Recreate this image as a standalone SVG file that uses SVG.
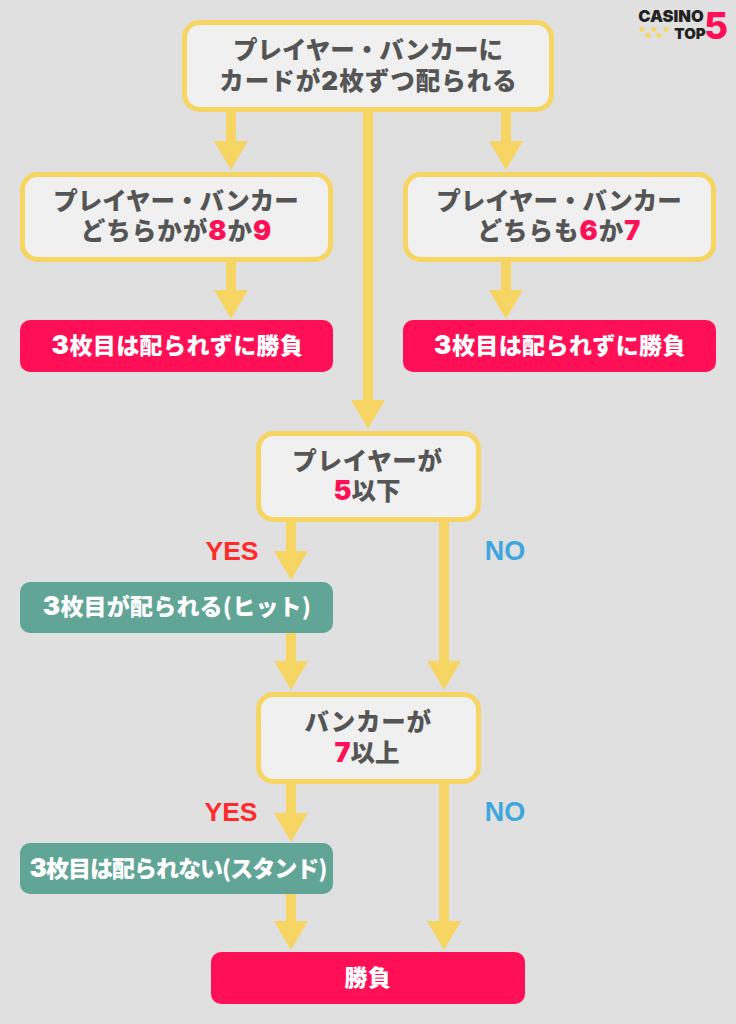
<svg xmlns="http://www.w3.org/2000/svg" width="736" height="1024" viewBox="0 0 736 1024">
<defs>
<marker id="head" markerUnits="userSpaceOnUse" markerWidth="29" markerHeight="34" refX="1" refY="17" orient="auto" viewBox="0 0 29 34"><path d="M0 0L29 17L0 34Z" fill="#f7d562"/></marker>
<path id="s" d="M0-3.600 1.100-1.100 3.600-1 1.700.7 2.300 3.200 0 1.900-2.300 3.200-1.700.7-3.600-1-1.100-1.100Z" fill="#f7d562"/>
</defs>
<style>
text{font-family:"Noto Sans CJK JP","Noto Sans",sans-serif;font-weight:900;text-anchor:middle}
.q{fill:#f0f0f0;stroke:#f7d562;stroke-width:5}
.l{font-size:24.5px;fill:#555}
.m{letter-spacing:.7px}
.b{letter-spacing:1px}
.w{font-size:23px;fill:#fff;letter-spacing:.4px}
.p{fill:#ff0f55}.g{fill:#60a596}
.d{font-family:Inter,"Liberation Sans",sans-serif;font-size:26px}
.e{fill:#ff0f55;font-family:Inter,"Liberation Sans",sans-serif;font-size:27px}
.c{fill:none;stroke:#f7d562;stroke-width:10}
.y{font-family:"Liberation Sans",sans-serif;font-weight:700;font-size:26.500px;fill:#ff2b2b}
.n{font-family:"Liberation Sans",sans-serif;font-weight:700;font-size:27px;fill:#3fa7df}
.lg{font-family:Inter,"Liberation Sans",sans-serif;font-weight:900;fill:#222;font-size:16.500px}
</style>
<rect width="736" height="1024" fill="#e0e0e0"/>
<g id="connectors" class="c">
<path d="M231 110V142" marker-end="url(#head)"/>
<path d="M506 110V142" marker-end="url(#head)"/>
<path d="M368 110V401" marker-end="url(#head)"/>
<path d="M231 260V291" marker-end="url(#head)"/>
<path d="M506 260V291" marker-end="url(#head)"/>
<path d="M291 520V552" marker-end="url(#head)"/>
<path d="M444 520V662" marker-end="url(#head)"/>
<path d="M291 633V662" marker-end="url(#head)"/>
<path d="M291 782V814" marker-end="url(#head)"/>
<path d="M444 782V922" marker-end="url(#head)"/>
<path d="M291 894V922" marker-end="url(#head)"/>
</g>
<g id="start"><rect class="q" x="184.500" y="22.500" width="367" height="87" rx="15"/><text class="l" x="368" y="59">プレイヤー・バンカーに</text><text class="l b" x="368.500" y="90">カードが<tspan class="d">2</tspan>枚ずつ配られる</text></g>
<g id="natural"><rect class="q" x="22.500" y="174.500" width="308" height="85" rx="15"/><text class="l" x="176" y="210">プレイヤー・バンカー</text><text class="l b" x="176.500" y="240">どちらかが<tspan class="e">8</tspan>か<tspan class="e">9</tspan></text></g>
<g id="six-seven"><rect class="q" x="405.500" y="174.500" width="308" height="85" rx="15"/><text class="l" x="559" y="210">プレイヤー・バンカー</text><text class="l b" x="559.500" y="240">どちらも<tspan class="e">6</tspan>か<tspan class="e">7</tspan></text></g>
<g id="result-left"><rect class="p" x="20" y="320" width="313" height="52" rx="10"/><text class="w" x="177.500" y="354"><tspan class="d">3</tspan>枚目は配られずに勝負</text></g>
<g id="result-right"><rect class="p" x="403" y="320" width="313" height="52" rx="10"/><text class="w" x="560" y="354"><tspan class="d">3</tspan>枚目は配られずに勝負</text></g>
<g id="player"><rect class="q" x="258.500" y="433.500" width="220" height="86" rx="15"/><text class="l m" x="367.500" y="470">プレイヤーが</text><text class="l" x="367" y="500"><tspan class="e">5</tspan>以下</text></g>
<text class="y" x="232" y="560">YES</text>
<text class="n" x="505" y="560">NO</text>
<g id="hit"><rect class="g" x="20" y="582" width="313" height="51" rx="10"/><text class="w" x="177" y="615" style="letter-spacing:.2px"><tspan class="d">3</tspan>枚目が配られる(ヒット)</text></g>
<g id="banker"><rect class="q" x="258.500" y="694.500" width="220" height="87" rx="15"/><text class="l m" x="368" y="731">バンカーが</text><text class="l" x="367" y="762"><tspan class="e">7</tspan>以上</text></g>
<text class="y" x="231" y="821">YES</text>
<text class="n" x="505" y="821">NO</text>
<g id="stand"><rect class="g" x="20" y="843" width="313" height="51" rx="10"/><text class="w" x="178" y="877" style="letter-spacing:-1px"><tspan class="d">3</tspan>枚目は配られない(スタンド)</text></g>
<g id="end"><rect class="p" x="211" y="952" width="314" height="52" rx="10"/><text class="w" x="368" y="986">勝負</text></g>
<g id="logo">
<text class="lg" x="671" y="22">CASINO</text>
<text class="lg" x="690" y="39" style="font-size:15px">TOP</text>
<text x="716" y="39" style="font-family:Inter,'Liberation Sans',sans-serif;font-weight:800;font-size:37px;fill:#ff0f55">5</text>
<use href="#s" x="642" y="29"/><use href="#s" x="654" y="29"/><use href="#s" x="666" y="29"/><use href="#s" x="648" y="35"/><use href="#s" x="659" y="35"/>
</g>
</svg>
